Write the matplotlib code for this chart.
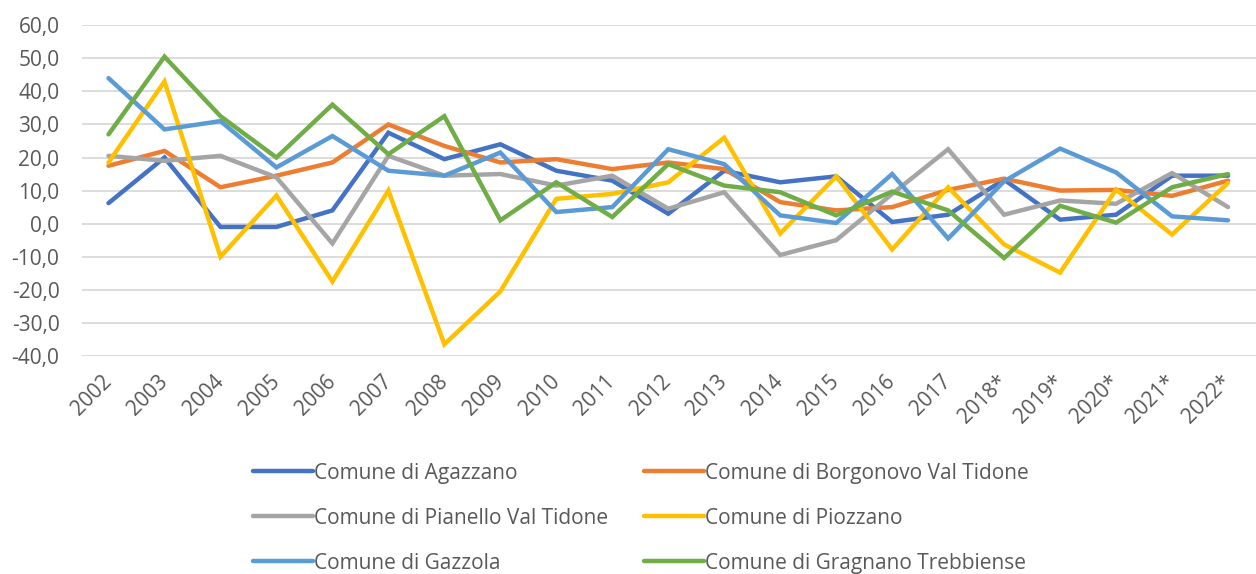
import matplotlib
matplotlib.use('Agg')
import matplotlib.pyplot as plt
import numpy as np

plt.rcParams['font.family'] = ['Open Sans', 'DejaVu Sans']

years = ['2002', '2003', '2004', '2005', '2006', '2007', '2008', '2009', '2010',
         '2011', '2012', '2013', '2014', '2015', '2016', '2017', '2018*',
         '2019*', '2020*', '2021*', '2022*']

agazzano = [6.2, 20.0, -1.0, -1.0, 4.0, 27.5, 19.5, 24.0, 16.0, 13.0, 3.0,
            16.0, 12.5, 14.3, 0.5, 2.7, 13.3, 1.2, 2.7, 14.5, 14.5]
borgonovo = [17.5, 22.0, 11.0, 14.5, 18.5, 30.0, 23.5, 18.5, 19.5, 16.5, 18.5,
             16.5, 6.5, 4.0, 5.0, 10.2, 13.6, 10.0, 10.2, 8.4, 13.0]
pianello = [20.5, 19.0, 20.5, 14.0, -6.0, 20.5, 14.5, 15.0, 11.5, 14.5, 4.5,
            9.5, -9.5, -5.0, 9.0, 22.5, 2.7, 7.0, 6.0, 15.3, 5.0]
piozzano = [18.5, 43.0, -10.0, 8.5, -17.5, 10.0, -36.5, -20.5, 7.5, 9.0, 12.5,
            26.0, -3.0, 14.3, -7.8, 11.0, -6.3, -14.8, 10.3, -3.3, 12.3]
gazzola = [44.0, 28.5, 31.0, 17.0, 26.5, 16.0, 14.5, 21.5, 3.5, 5.0, 22.5,
           18.0, 2.5, 0.2, 15.0, -4.5, 12.8, 22.7, 15.5, 2.2, 1.0]
gragnano = [27.0, 50.5, 32.5, 20.0, 36.0, 21.0, 32.5, 1.0, 12.5, 2.0, 18.0,
            11.5, 9.5, 2.5, 9.7, 4.0, -10.4, 5.4, 0.3, 11.0, 15.0]

series = [
    ('Comune di Agazzano', agazzano, '#4472C4'),
    ('Comune di Borgonovo Val Tidone', borgonovo, '#ED7D31'),
    ('Comune di Pianello Val Tidone', pianello, '#A5A5A5'),
    ('Comune di Piozzano', piozzano, '#FFC000'),
    ('Comune di Gazzola', gazzola, '#5B9BD5'),
    ('Comune di Gragnano Trebbiense', gragnano, '#70AD47'),
]

fig = plt.figure(figsize=(12.56, 5.74), dpi=100)
ax = fig.add_axes([0.065, 0.38, 0.935, 0.576])

x = np.arange(len(years))
lines = []
for name, vals, col in series:
    ln, = ax.plot(x, vals, color=col, lw=3.2, label=name, solid_capstyle='round',
                  solid_joinstyle='miter')
    lines.append(ln)

ax.set_xlim(-0.48, 20.5)
ax.set_ylim(-40, 60)
ax.set_yticks(np.arange(-40, 61, 10))
ax.set_yticklabels([('%.1f' % v).replace('.', ',') for v in np.arange(-40, 61, 10)])
ax.set_xticks(x)
ax.set_xticklabels(years, rotation=45, ha='right', va='center',
                   rotation_mode='anchor')

ax.grid(axis='y', color='#D9D9D9', lw=1.3)
ax.set_axisbelow(True)
for s in ax.spines.values():
    s.set_visible(False)
ax.tick_params(length=0, labelsize=15, labelcolor='#595959')
ax.tick_params(axis='y', pad=16)
ax.tick_params(axis='x', pad=16)

# excel fills the legend row by row, matplotlib column by column
order = [0, 2, 4, 1, 3, 5]
fig.legend([lines[i] for i in order], [series[i][0] for i in order],
           loc='upper left', bbox_to_anchor=(0.2014, 0.194), ncol=2,
           frameon=False, fontsize=15, labelcolor='#595959',
           handlelength=2.9, handletextpad=0.05, columnspacing=1.7,
           labelspacing=1.15, borderpad=0, borderaxespad=0)

fig.savefig('out.png', dpi=100)
